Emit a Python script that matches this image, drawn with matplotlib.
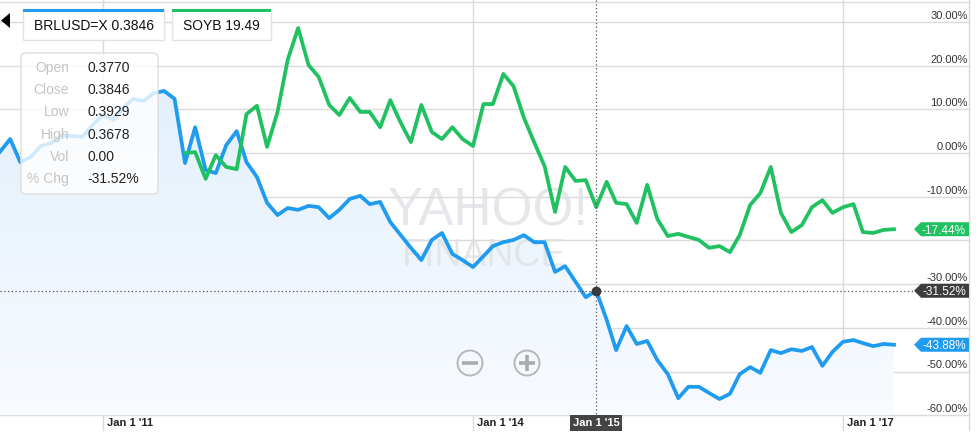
import numpy as np
import pandas as pd
import matplotlib
matplotlib.use("Agg")
import matplotlib.pyplot as plt
import matplotlib.dates as mdates
from matplotlib.patches import Polygon, Rectangle, FancyBboxPatch, Circle, PathPatch
from matplotlib.colors import LinearSegmentedColormap

plt.rcParams['font.family'] = ['Liberation Sans', 'DejaVu Sans']

# monthly % change, BRLUSD=X vs SOYB
months = pd.date_range('2010-03-01', periods=88, freq='MS')
brl_pct = [0.2, 3.2, -2.1, -0.9, 1.6, 2.3, 4.1, 3.9, 3.7, 6.4,
           8.7, 7.6, 10.3, 12.4, 11.9, 13.7, 14.2, 12.4, -2.3, 5.9,
           -3.9, -4.6, 1.8, 5.0, -2.1, -5.5, -11.4, -14.2, -12.6, -13.0,
           -12.1, -12.4, -14.9, -13.0, -10.5, -9.8, -11.7, -11.2, -15.8, -18.8,
           -21.7, -24.5, -19.9, -18.3, -23.1, -24.5, -26.1, -23.6, -21.3, -20.4,
           -19.9, -18.8, -20.4, -20.4, -27.2, -25.9, -29.5, -33.0, -31.52, -38.2,
           -45.1, -39.6, -43.7, -43.0, -47.4, -50.6, -56.1, -53.5, -53.5, -54.9,
           -56.3, -55.1, -50.6, -49.0, -50.3, -45.1, -45.8, -44.9, -45.3, -44.4,
           -48.7, -45.5, -43.2, -42.8, -43.5, -44.2, -43.7, -43.88]
soyb_start = 18  # SOYB begins Sept 2011
soyb_pct = [0.0, 0.2, -5.9, -0.5, -3.2, -3.7, 8.9, 10.8, 1.4, 9.4,
            21.3, 28.6, 20.1, 17.4, 11.0, 8.7, 12.6, 9.4, 9.4, 5.9,
            12.1, 6.9, 2.5, 11.0, 4.8, 3.2, 5.9, 3.2, 1.6, 11.2,
            11.2, 18.1, 15.3, 8.0, 2.5, -3.0, -13.5, -3.2, -6.4, -6.2,
            -12.4, -6.6, -11.4, -11.7, -16.0, -7.3, -15.1, -19.0, -18.5, -19.2,
            -19.9, -21.7, -21.3, -22.7, -18.8, -11.9, -9.2, -3.2, -13.7, -18.1,
            -16.5, -12.4, -10.8, -13.7, -12.4, -11.7, -18.1, -18.3, -17.6, -17.44]

y_ticks = [30, 20, 10, 0, -10, -20, -30, -40, -50, -60]
y_hidden = [-20]
x_ticks = ['2011-01-01', '2014-01-01', '2017-01-01']
x_tick_labels = ["Jan 1 '11", "Jan 1 '14", "Jan 1 '17"]
cursor_idx = 58
cursor_label = "Jan 1 '15"
tooltip_rows = [("Open", "0.3770"), ("Close", "0.3846"), ("Low", "0.3929"),
                ("High", "0.3678"), ("Vol", "0.00"), ("% Chg", "-31.52%")]

BLUE = '#1f9bf0'
GREEN = '#1fc160'
GRID = '#dadada'

fig = plt.figure(figsize=(9.76, 4.45), dpi=100)
ax = fig.add_axes([0, 0, 1, 1])
ax.axis('off')

# pixel <-> data mapping
ppd = 370 / 1096.0          # px per day
ppp = 4.37                  # px per percent
zero_px = 153.0
x0 = mdates.date2num(pd.Timestamp('2011-01-01')) - 103 / ppd
def X(px):
    return x0 + px / ppd
def Y(py):
    return (zero_px - py) / ppp

xs = mdates.date2num(months)
brl = np.array(brl_pct)
soyb = np.array(soyb_pct)
xs_soyb = xs[soyb_start:]

# grid
for v in y_ticks:
    ax.plot([X(0), X(969)], [v, v], color=GRID, lw=1, zorder=0)
ax.plot([X(0), X(969)], [Y(1.5), Y(1.5)], color=GRID, lw=1, zorder=0)
ax.plot([X(969), X(969)], [Y(0), Y(430)], color=GRID, lw=1, zorder=0)
for d in x_ticks:
    dn = mdates.date2num(pd.Timestamp(d))
    ax.plot([dn, dn], [Y(0), Y(430)], color=GRID, lw=1, zorder=0)

for v in y_ticks:
    if v in y_hidden:
        continue
    ax.text(X(968), v + 3 / ppp, f'{v:.2f}%', ha='right', va='baseline',
            fontsize=8, color='#333333', zorder=1)

for d, lab in zip(x_ticks, x_tick_labels):
    dn = mdates.date2num(pd.Timestamp(d))
    ax.text(dn + 4 / ppd, Y(423), lab, ha='left', va='center', fontsize=8,
            fontweight='bold', color='#222222')

# gradient fill under BRL
poly = ax.fill_between(xs, brl, -60, color='none', lw=0)
clip = PathPatch(poly.get_paths()[0], transform=ax.transData, fc='none', ec='none')
ax.add_patch(clip)
cmap = LinearSegmentedColormap.from_list('f', ['#f8fbff', '#e3f0fc'])
grad = np.linspace(0, 1, 256).reshape(-1, 1)
im = ax.imshow(grad, extent=[xs[0], xs[-1], -60, brl.max()], origin='lower',
               aspect='auto', cmap=cmap, zorder=0.8)
im.set_clip_path(clip)

# watermark
ax.text(X(488), Y(211), 'YAHOO!', ha='center', va='center', fontsize=38,
        color='#dfe2e5', alpha=0.8, zorder=1)
ax.text(X(484), Y(256), 'FINANCE', ha='center', va='center', fontsize=27,
        color='#dfe2e5', alpha=0.8, zorder=1)

ax.plot(xs, brl, color=BLUE, lw=2.7, solid_joinstyle='round', zorder=2)
ax.plot(xs_soyb, soyb, color=GREEN, lw=2.7, solid_joinstyle='round', zorder=2)

# crosshair
cx, cy = xs[cursor_idx], brl[cursor_idx]
ax.plot([cx, cx], [Y(0), Y(416)], color='#555555', lw=0.9, ls=(0, (1, 2)), zorder=3)
ax.plot([X(0), X(914)], [cy, cy], color='#555555', lw=0.9, ls=(0, (1, 2)), zorder=3)
ax.plot(cx, cy, 'o', ms=6, color='#3a3a3a', zorder=4)
ax.text(cx, Y(423), cursor_label, ha='center', va='center', fontsize=8,
        fontweight='bold', color='white', zorder=5,
        bbox=dict(boxstyle='square,pad=0.25', fc='#444444', ec='none'))

# value tags on the right
def tag(value, color):
    h = 7 / ppp
    pts = [(X(914), value), (X(921), value + h), (X(969), value + h),
           (X(969), value - h), (X(921), value - h)]
    ax.add_patch(Polygon(pts, closed=True, fc=color, ec='none', zorder=5))
    ax.text(X(966), value, f'{value:.2f}%', ha='right', va='center_baseline',
            fontsize=8.5, color='white', zorder=6)

tag(soyb[-1], GREEN)
tag(cy, '#3d3d3d')
tag(brl[-1], BLUE)

ax.set_xlim(X(0), X(976))
ax.set_ylim(Y(445), Y(0))

# UI overlay in pixel coords
ui = fig.add_axes([0, 0, 1, 1], zorder=10)
ui.set_xlim(0, 976)
ui.set_ylim(445, 0)
ui.axis('off')
ui.patch.set_alpha(0)

ui.add_patch(Polygon([(1, 20.5), (10, 13), (10, 28)], closed=True, fc='black', ec='none'))

chips = [(23, 164, BLUE, 'BRLUSD=X 0.3846'), (172, 271, GREEN, 'SOYB 19.49')]
for l, r, c, t in chips:
    ui.add_patch(Rectangle((l, 9), r - l, 31, fc='white', ec='#e2e2e2', lw=1))
    ui.add_patch(Rectangle((l, 9), r - l, 3, fc=c, ec='none'))
    ui.text((l + r) / 2, 26.5, t, ha='center', va='center', fontsize=10, color='#111111')

ui.add_patch(FancyBboxPatch((21, 53), 137, 141, boxstyle='round,pad=0,rounding_size=5',
                            fc=(1, 1, 1, 0.8), ec='#dedede', lw=1))
for k, (lab, val) in enumerate(tooltip_rows):
    yy = 68 + 22.2 * k
    ui.text(69, yy, lab, ha='right', va='center', fontsize=10, color='#c4c4c4')
    ui.text(87, yy, val, ha='left', va='center', fontsize=10, color='#222222')

# zoom buttons
for cxp, plus in [(470, False), (527, True)]:
    ui.add_patch(Circle((cxp, 363), 12.5, fill=False, ec='#b8b8b8', lw=1.4))
    ui.plot([cxp - 8, cxp + 8], [363, 363], color='#aaaaaa', lw=2.6, solid_capstyle='butt')
    if plus:
        ui.plot([cxp, cxp], [355, 371], color='#aaaaaa', lw=2.6, solid_capstyle='butt')

fig.savefig('out.png', dpi=100)
